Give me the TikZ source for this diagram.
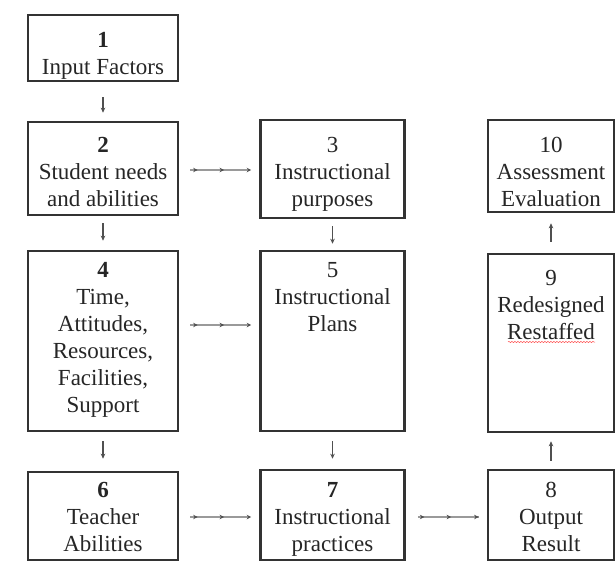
\documentclass[tikz,border=0pt]{standalone}
\usepackage{fontspec}
\setmainfont{Liberation Serif}
\usetikzlibrary{arrows.meta,decorations.markings,decorations.pathmorphing}
\definecolor{edge}{HTML}{333333}
\definecolor{ink}{HTML}{262626}
\definecolor{conn}{HTML}{505050}
\definecolor{connlight}{HTML}{9A9A9A}
\begin{document}
\begin{tikzpicture}[x=1pt,y=-1pt,
  boxnode/.style={draw=edge,line width=2.6pt,rectangle,inner sep=0pt},
  txt/.style={anchor=north,inner sep=0pt,align=center,text=ink,font=\fontsize{23}{27}\selectfont},
  varrow/.style={draw=conn,line width=1.3pt,-{Stealth[length=5pt,width=4.5pt]}},
  smalltip/.tip={Stealth[length=4.5pt,width=4.5pt]},
  harrow/.style={draw=connlight,line width=1.3pt,
    postaction={decorate},
    decoration={markings,
      mark=at position 0.23 with {\arrow[conn]{smalltip}},
      mark=at position 0.56 with {\arrow[conn]{smalltip}},
      mark=at position 0.9 with {\arrow[conn]{smalltip}}}}]
\useasboundingbox (0,0) rectangle (615,562);
\fill[white] (0,0) rectangle (615,562);

% boxes
\node[boxnode,minimum width=150,minimum height=66] (b1) at (103,48) {};
\node[boxnode,minimum width=150,minimum height=93] (b2) at (103,168.5) {};
\node[boxnode,minimum width=150,minimum height=180] (b4) at (103,341) {};
\node[boxnode,minimum width=150,minimum height=88] (b6) at (103,516) {};
\node[boxnode,minimum width=144,minimum height=98] (b3) at (332.5,169) {};
\node[boxnode,minimum width=144,minimum height=180] (b5) at (332.5,341) {};
\node[boxnode,minimum width=144,minimum height=90] (b7) at (332.5,515) {};
\node[boxnode,minimum width=126,minimum height=92] (b10) at (551,166) {};
\node[boxnode,minimum width=126,minimum height=178] (b9) at (551,343) {};
\node[boxnode,minimum width=126,minimum height=90] (b8) at (551,515) {};

% texts
\node[txt] (t1) at (103,28) {\strut\textbf{1}\\Input Factors};
\node[txt] (t2) at (103,133) {\strut\textbf{2}\\Student needs\\and abilities};
\node[txt] (t4) at (103,258) {\strut\textbf{4}\\Time,\\Attitudes,\\Resources,\\Facilities,\\Support};
\node[txt] (t6) at (103,478) {\strut\textbf{6}\\Teacher\\Abilities};
\node[txt] (t3) at (332.5,133) {\strut 3\\Instructional\\purposes};
\node[txt] (t5) at (332.5,258) {\strut 5\\Instructional\\Plans};
\node[txt] (t7) at (332.5,478) {\strut\textbf{7}\\Instructional\\practices};
\node[txt] (t10) at (551,133) {\strut 10\\Assessment\\Evaluation};
\node[txt] (t9) at (551,266) {\strut 9\\Redesigned\\Restaffed};
\node[txt] (t8) at (551,478) {\strut 8\\Output\\Result};

% spell-check squiggle
\coordinate (sq1) at (508,342);
\coordinate (sq2) at (595,342);
\draw[red!70,line width=0.5pt,decorate,decoration={snake,amplitude=0.6pt,segment length=3pt}] (sq1) -- (sq2);

% vertical arrows
\draw[varrow,shorten <=15pt,shorten >=8pt] (b1) -- (b2);
\draw[varrow,shorten <=7pt,shorten >=9pt] (b2) -- (b4);
\draw[varrow,shorten <=9pt,shorten >=12pt] (b4) -- (b6);
\draw[varrow,shorten <=7pt,shorten >=6pt] (b3) -- (b5);
\draw[varrow,shorten <=9pt,shorten >=10pt] (b5) -- (b7);
\draw[varrow,shorten <=8pt,shorten >=8pt] (b8) -- (b9);
\draw[varrow,shorten <=11pt,shorten >=10pt] (b9) -- (b10);

% horizontal connectors
\draw[harrow,shorten <=11pt,shorten >=10pt] ([yshift=-1.5pt]b2.east) -- ([yshift=-1pt]b3.west);
\draw[harrow,shorten <=11pt,shorten >=10pt] ([yshift=16pt]b4.east) -- ([yshift=16pt]b5.west);
\draw[harrow,shorten <=11pt,shorten >=10pt] ([yshift=-1pt]b6.east) -- ([yshift=-2pt]b7.west);
\draw[harrow,shorten <=12pt,shorten >=8pt] ([yshift=-2pt]b7.east) -- ([yshift=-2pt]b8.west);
\end{tikzpicture}
\end{document}
